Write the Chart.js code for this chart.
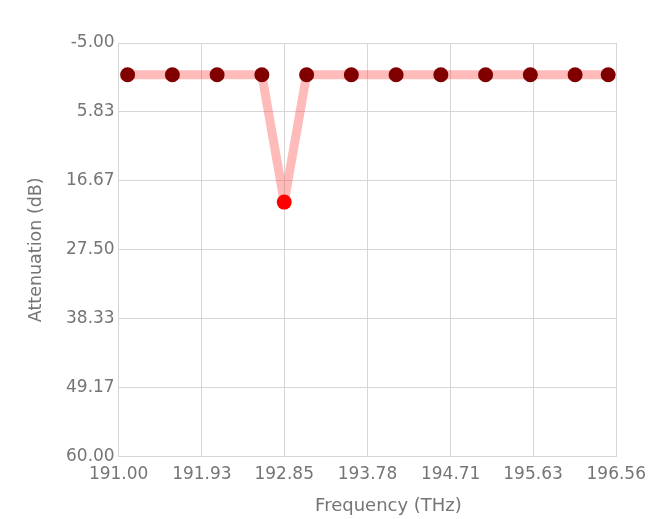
<!DOCTYPE html>
<html lang="en">
<head>
    <meta charset="UTF-8">
    <title>Attenuation</title>
    <script src="https://cdn.jsdelivr.net/npm/chart.js"></script>
    <style>
        html, body { margin: 0; padding: 0; background: #fff; }
        #wrap { width: 654px; height: 519px; }
    </style>
</head>
<body>
    <div id="wrap"><canvas id="attChart" width="654" height="519"></canvas></div>

    <script>
        // channel frequencies (THz) and attenuation (dB)
        const freqs = [191.10, 191.60, 192.10, 192.60, 192.85, 193.10, 193.60, 194.10, 194.60, 195.10, 195.60, 196.10, 196.47];
        const atten = [0, 0, 0, 0, 20, 0, 0, 0, 0, 0, 0, 0, 0];
        const markedIdx = 4;

        const xTicks = [191.00, 191.93, 192.85, 193.78, 194.71, 195.63, 196.56];
        const yTicks = [-5.00, 5.83, 16.67, 27.50, 38.33, 49.17, 60.00];
        const xTitle = 'Frequency (THz)';

        const points = freqs.map((f, i) => ({ x: f, y: atten[i] }));
        const dotColors = freqs.map((f, i) => i === markedIdx ? '#ff0000' : '#800000');

        const fontFamily = '"DejaVu Sans", Verdana, sans-serif';
        const textColor = '#757575';
        Chart.defaults.font.family = fontFamily;
        Chart.defaults.color = textColor;

        // x title sits a bit right of the plot centre, so draw it by hand
        const xTitlePlugin = {
            id: 'xTitle',
            afterDraw(chart) {
                const c = chart.ctx;
                const area = chart.chartArea;
                c.save();
                c.font = '18px ' + fontFamily;
                c.fillStyle = textColor;
                c.textAlign = 'center';
                c.textBaseline = 'middle';
                c.fillText(xTitle, (area.left + area.right) / 2 + 21, 506);
                c.restore();
            }
        };

        const ctx = document.getElementById('attChart').getContext('2d');
        new Chart(ctx, {
            type: 'line',
            data: {
                datasets: [{
                    data: points,
                    borderColor: 'rgba(255, 40, 40, 0.32)',
                    borderWidth: 9,
                    borderJoinStyle: 'round',
                    pointBackgroundColor: dotColors,
                    pointBorderColor: dotColors,
                    pointRadius: 7.5,
                    pointBorderWidth: 0,
                    tension: 0
                }]
            },
            plugins: [xTitlePlugin],
            options: {
                responsive: false,
                animation: false,
                layout: { padding: { left: 22, right: 34, top: 43, bottom: 26 } },
                plugins: { legend: { display: false }, tooltip: { enabled: false } },
                scales: {
                    x: {
                        type: 'linear',
                        min: xTicks[0],
                        max: xTicks[xTicks.length - 1],
                        afterBuildTicks: axis => { axis.ticks = xTicks.map(v => ({ value: v })); },
                        ticks: { callback: v => v.toFixed(2), font: { size: 17 }, padding: 8, maxRotation: 0 },
                        grid: { color: '#d6d6d6', drawTicks: false },
                        border: { color: '#d6d6d6' }
                    },
                    y: {
                        reverse: true,
                        min: yTicks[0],
                        max: yTicks[yTicks.length - 1],
                        afterBuildTicks: axis => { axis.ticks = yTicks.map(v => ({ value: v })); },
                        ticks: { callback: v => v.toFixed(2), font: { size: 17 }, padding: 4 },
                        grid: { color: '#d6d6d6', drawTicks: false },
                        border: { color: '#d6d6d6' },
                        title: { display: true, text: 'Attenuation (dB)', font: { size: 17.5 }, padding: { top: 4, bottom: 15 } }
                    }
                }
            }
        });
    </script>
</body>
</html>
